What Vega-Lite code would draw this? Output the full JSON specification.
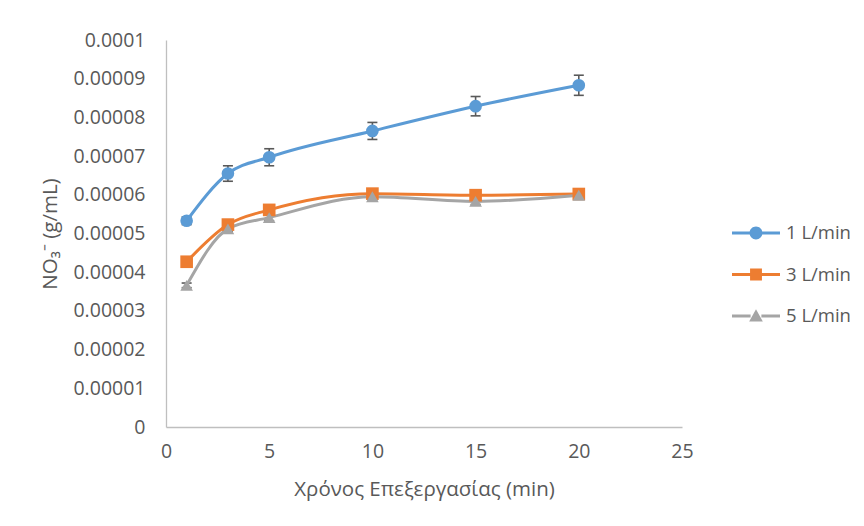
{
  "$schema": "https://vega.github.io/schema/vega-lite/v6.json",
  "autosize": {"type": "none"},
  "width": 516,
  "height": 387,
  "padding": {"left": 166, "top": 40, "right": 182, "bottom": 99},
  "background": "white",
  "config": {
    "view": {"stroke": null},
    "font": "Open Sans",
    "axis": {"labelFont": "Open Sans", "titleFont": "Open Sans", "labelColor": "#595959", "titleColor": "#595959", "labelFontSize": 19.5, "titleFontSize": 20.5, "titleFontWeight": "normal", "grid": false, "ticks": false, "domainColor": "#BFBFBF", "domainWidth": 1.3, "labelOverlap": false, "labelFlush": false}
  },
  "data": {
    "values": [
      {"series": "1 L/min", "t": 1, "y": 0.0000533, "lo": 0.0000523, "hi": 0.0000543},
      {"series": "1 L/min", "t": 3, "y": 0.0000655, "lo": 0.0000635, "hi": 0.0000675},
      {"series": "1 L/min", "t": 5, "y": 0.0000697, "lo": 0.0000675, "hi": 0.0000719},
      {"series": "1 L/min", "t": 10, "y": 0.0000765, "lo": 0.0000743, "hi": 0.0000787},
      {"series": "1 L/min", "t": 15, "y": 0.0000829, "lo": 0.0000804, "hi": 0.0000854},
      {"series": "1 L/min", "t": 20, "y": 0.0000883, "lo": 0.0000857, "hi": 0.0000909},
      {"series": "3 L/min", "t": 1, "y": 0.0000427, "lo": 0.0000421, "hi": 0.0000433},
      {"series": "3 L/min", "t": 3, "y": 0.0000523, "lo": 0.0000516, "hi": 0.000053},
      {"series": "3 L/min", "t": 5, "y": 0.0000561, "lo": 0.0000553, "hi": 0.0000569},
      {"series": "3 L/min", "t": 10, "y": 0.0000603, "lo": 0.0000595, "hi": 0.0000611},
      {"series": "3 L/min", "t": 15, "y": 0.0000599, "lo": 0.0000591, "hi": 0.0000607},
      {"series": "3 L/min", "t": 20, "y": 0.0000602, "lo": 0.0000594, "hi": 0.000061},
      {"series": "5 L/min", "t": 1, "y": 0.0000366, "lo": 0.000036, "hi": 0.0000372},
      {"series": "5 L/min", "t": 3, "y": 0.0000512, "lo": 0.0000505, "hi": 0.0000519},
      {"series": "5 L/min", "t": 5, "y": 0.0000541, "lo": 0.0000533, "hi": 0.0000549},
      {"series": "5 L/min", "t": 10, "y": 0.0000595, "lo": 0.0000587, "hi": 0.0000603},
      {"series": "5 L/min", "t": 15, "y": 0.0000583, "lo": 0.0000575, "hi": 0.0000591},
      {"series": "5 L/min", "t": 20, "y": 0.0000599, "lo": 0.0000591, "hi": 0.0000607}
    ]
  },
  "encoding": {
    "x": {"field": "t", "type": "quantitative", "scale": {"domain": [0, 25], "nice": false, "zero": true},
      "axis": {"values": [0, 5, 10, 15, 20, 25], "tickCount": 20, "title": "Χρόνος Επεξεργασίας (min)", "labelPadding": 15, "titlePadding": 19, "labelFlush": false, "labelOverlap": false}},
    "y": {"field": "y", "type": "quantitative", "scale": {"domain": [0, 0.0001], "nice": false},
      "axis": {"values": [0, 0.00001, 0.00002, 0.00003, 0.00004, 0.00005, 0.00006, 0.00007, 0.00008, 0.00009, 0.0001], "tickCount": 20, "format": ".5~f", "title": "NO₃⁻ (g/mL)", "labelPadding": 21, "titlePadding": 12, "labelOverlap": false, "labelFlush": false}}
  },
  "layer": [
    {
      "mark": {"type": "rule", "strokeWidth": 1.6, "color": "#595959"},
      "encoding": {
        "y": {"field": "lo", "type": "quantitative"},
        "y2": {"field": "hi"}
      }
    },
    {
      "mark": {"type": "tick", "orient": "horizontal", "size": 10, "thickness": 1.6, "color": "#595959", "opacity": 1},
      "encoding": {
        "y": {"field": "lo", "type": "quantitative"}
      }
    },
    {
      "mark": {"type": "tick", "orient": "horizontal", "size": 10, "thickness": 1.6, "color": "#595959", "opacity": 1},
      "encoding": {
        "y": {"field": "hi", "type": "quantitative"}
      }
    },
    {
      "mark": {"type": "line", "interpolate": "monotone", "strokeWidth": 3},
      "encoding": {
        "color": {"field": "series", "type": "nominal", "scale": {"domain": ["1 L/min", "3 L/min", "5 L/min"], "range": ["#5B9BD5", "#ED7D31", "#A5A5A5"]}, "legend": null}
      }
    },
    {
      "mark": {"type": "point", "filled": true, "opacity": 1, "size": 160},
      "encoding": {
        "color": {"field": "series", "type": "nominal", "legend": null},
        "shape": {"field": "series", "type": "nominal", "scale": {"domain": ["1 L/min", "3 L/min", "5 L/min"], "range": ["circle", "square", "triangle-up"]}, "legend": null}
      }
    },
    {
      "mark": {"type": "point", "filled": true, "opacity": 0},
      "encoding": {
        "fill": {"field": "series", "type": "nominal", "title": null, "scale": {"domain": ["1 L/min", "3 L/min", "5 L/min"], "range": ["#5B9BD5", "#ED7D31", "#A5A5A5"]},
          "legend": {"orient": "none", "legendX": 572, "legendY": 175, "padding": 0, "rowPadding": 13.5, "symbolSize": 1296, "labelOffset": 12, "labelFontSize": 18.5, "labelFont": "Open Sans", "labelColor": "#595959", "symbolStrokeWidth": 0, "encode": {"symbols": {"update": {"opacity": {"value": 1}}}}}},
        "shape": {"field": "series", "type": "nominal", "title": null, "scale": {"domain": ["1 L/min", "3 L/min", "5 L/min"], "range": [
          "M-1.333,-0.083H-0.3V0.083H-1.333Z M0.3,-0.083H1.333V0.083H0.3Z M-0.36,0A0.36,0.36 0 1,1 0.36,0A0.36,0.36 0 1,1 -0.36,0Z",
          "M-1.333,-0.083H-0.3V0.083H-1.333Z M0.3,-0.083H1.333V0.083H0.3Z M-0.33,-0.33H0.33V0.33H-0.33Z",
          "M-1.333,-0.083H-0.3V0.083H-1.333Z M0.3,-0.083H1.333V0.083H0.3Z M0,-0.38L0.38,0.3H-0.38Z"]},
          "legend": {"orient": "none", "legendX": 572, "legendY": 175, "padding": 0, "rowPadding": 13.5, "symbolSize": 1296, "labelOffset": 12, "labelFontSize": 18.5, "labelFont": "Open Sans", "labelColor": "#595959", "symbolStrokeWidth": 0, "encode": {"symbols": {"update": {"opacity": {"value": 1}}}}}}
      }
    }
  ],
  "resolve": {"scale": {"shape": "independent", "fill": "independent"}}
}
